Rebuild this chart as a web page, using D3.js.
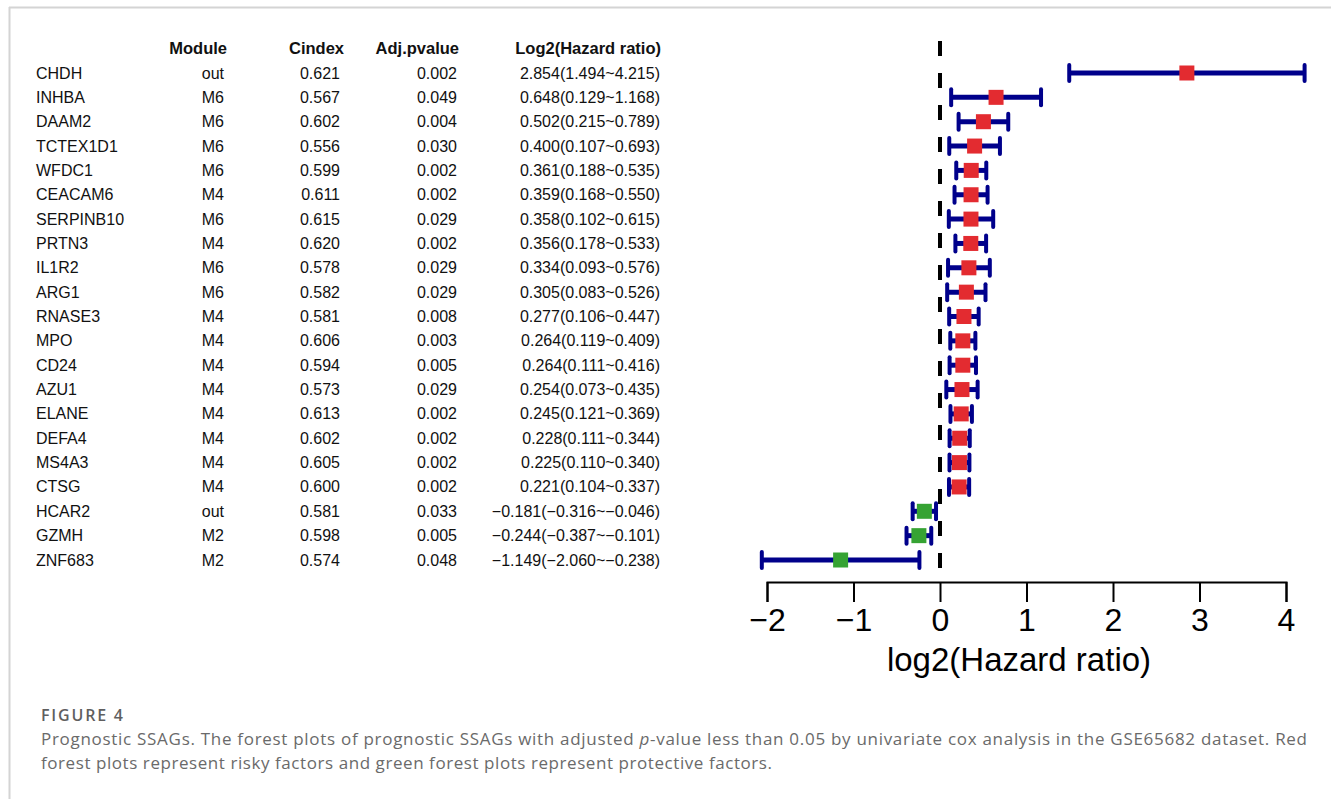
<!DOCTYPE html>
<html>
<head>
<meta charset="utf-8">
<script src="https://cdn.jsdelivr.net/npm/d3@7"></script>
<style>
  html, body { margin: 0; padding: 0; background: #fff; }
  svg { display: block; }
</style>
</head>
<body>
<svg id="chart" width="1331" height="799"></svg>
<script>
const genes = ["CHDH","INHBA","DAAM2","TCTEX1D1","WFDC1","CEACAM6","SERPINB10","PRTN3","IL1R2","ARG1","RNASE3","MPO","CD24","AZU1","ELANE","DEFA4","MS4A3","CTSG","HCAR2","GZMH","ZNF683"];
const modules = ["out","M6","M6","M6","M6","M4","M6","M4","M6","M6","M4","M4","M4","M4","M4","M4","M4","M4","out","M2","M2"];
const cindex = [0.621,0.567,0.602,0.556,0.599,0.611,0.615,0.620,0.578,0.582,0.581,0.606,0.594,0.573,0.613,0.602,0.605,0.600,0.581,0.598,0.574];
const adjP = [0.002,0.049,0.004,0.030,0.002,0.002,0.029,0.002,0.029,0.029,0.008,0.003,0.005,0.029,0.002,0.002,0.002,0.002,0.033,0.005,0.048];
const log2HR = [2.854,0.648,0.502,0.400,0.361,0.359,0.358,0.356,0.334,0.305,0.277,0.264,0.264,0.254,0.245,0.228,0.225,0.221,-0.181,-0.244,-1.149];
const lower = [1.494,0.129,0.215,0.107,0.188,0.168,0.102,0.178,0.093,0.083,0.106,0.119,0.111,0.073,0.121,0.111,0.110,0.104,-0.316,-0.387,-2.060];
const upper = [4.215,1.168,0.789,0.693,0.535,0.550,0.615,0.533,0.576,0.526,0.447,0.409,0.416,0.435,0.369,0.344,0.340,0.337,-0.046,-0.101,-0.238];
const headers = ["Module","Cindex","Adj.pvalue","Log2(Hazard ratio)"];
const xTicks = [-2,-1,0,1,2,3,4];
const axisTitle = "log2(Hazard ratio)";
const figLabel = "FIGURE 4";
const captionLine1a = "Prognostic SSAGs. The forest plots of prognostic SSAGs with adjusted ";
const captionItalic = "p";
const captionLine1b = "-value less than 0.05 by univariate cox analysis in the GSE65682 dataset. Red";
const captionLine2 = "forest plots represent risky factors and green forest plots represent protective factors.";

const svg = d3.select("#chart");
const f3 = d3.format(".3f");

// frame border
svg.append("line").attr("x1", 9).attr("x2", 1331).attr("y1", 7.5).attr("y2", 7.5)
  .attr("stroke", "#d4d4d4").attr("stroke-width", 2);
svg.append("line").attr("x1", 9.5).attr("x2", 9.5).attr("y1", 7).attr("y2", 799)
  .attr("stroke", "#d4d4d4").attr("stroke-width", 2);

const y = d3.scalePoint().domain(genes).range([73, 560]);
const x = d3.scaleLinear().domain([-2, 4]).range([767, 1286]);

const tableFont = "Liberation Sans, Arial, Helvetica, sans-serif";
const colX = [227, 344, 459, 661];
const headerY = 48;

// headers
svg.append("g").selectAll("text").data(headers).join("text")
  .attr("x", (d, i) => colX[i]).attr("y", headerY)
  .attr("text-anchor", "end").attr("dominant-baseline", "central")
  .attr("font-family", tableFont).attr("font-size", 16.5).attr("font-weight", "bold")
  .attr("fill", "#111").text(d => d);

const rows = genes.map((g, i) => ({
  gene: g, module: modules[i], cindex: cindex[i], p: adjP[i],
  hr: log2HR[i], lo: lower[i], hi: upper[i]
}));

const tbl = svg.append("g").attr("font-family", tableFont).attr("font-size", 16).attr("fill", "#111");
const rowG = tbl.selectAll("g").data(rows).join("g")
  .attr("transform", d => `translate(0,${y(d.gene)})`);
rowG.append("text").attr("x", 36).attr("dominant-baseline", "central").text(d => d.gene);
rowG.append("text").attr("x", colX[0] - 3).attr("text-anchor", "end").attr("dominant-baseline", "central").text(d => d.module);
rowG.append("text").attr("x", colX[1] - 4).attr("text-anchor", "end").attr("dominant-baseline", "central").text(d => f3(d.cindex));
rowG.append("text").attr("x", colX[2] - 2).attr("text-anchor", "end").attr("dominant-baseline", "central").text(d => f3(d.p));
rowG.append("text").attr("x", colX[3] - 1).attr("text-anchor", "end").attr("dominant-baseline", "central")
  .text(d => `${f3(d.hr)}(${f3(d.lo)}~${f3(d.hi)})`);

// zero dashed line
const axisY = 582;
svg.append("line").attr("x1", x(0)).attr("x2", x(0)).attr("y1", 41).attr("y2", axisY)
  .attr("stroke", "#000").attr("stroke-width", 4).attr("stroke-dasharray", "15,17");

// forest marks
const navy = "#00008b";
const capH = 16;
const fg = svg.append("g");
const rg = fg.selectAll("g").data(rows).join("g").attr("transform", d => `translate(0,${y(d.gene)})`);
rg.append("line").attr("x1", d => x(d.lo)).attr("x2", d => x(d.hi)).attr("y1", 0).attr("y2", 0)
  .attr("stroke", navy).attr("stroke-width", 5);
rg.append("line").attr("x1", d => x(d.lo)).attr("x2", d => x(d.lo)).attr("y1", -capH / 2).attr("y2", capH / 2)
  .attr("stroke", navy).attr("stroke-width", 4).attr("stroke-linecap", "round");
rg.append("line").attr("x1", d => x(d.hi)).attr("x2", d => x(d.hi)).attr("y1", -capH / 2).attr("y2", capH / 2)
  .attr("stroke", navy).attr("stroke-width", 4).attr("stroke-linecap", "round");
const box = 15;
rg.append("rect").attr("x", d => x(d.hr) - box / 2).attr("y", -box / 2)
  .attr("width", box).attr("height", box)
  .attr("fill", d => d.hr >= 0 ? "#e32b30" : "#36a333");

// axis
const axis = d3.axisBottom(x).tickValues(xTicks).tickFormat(d3.format("d")).tickSize(20).tickPadding(6);
const ag = svg.append("g").attr("transform", `translate(0,${axisY})`).call(axis);
ag.select(".domain").attr("stroke", "#000").attr("stroke-width", 2);
ag.selectAll(".tick line").attr("stroke", "#000").attr("stroke-width", 2);
ag.selectAll(".tick text").attr("font-family", tableFont).attr("font-size", 32).attr("fill", "#000");

svg.append("text").attr("x", 1019).attr("y", 671).attr("text-anchor", "middle")
  .attr("font-family", tableFont).attr("font-size", 33).attr("fill", "#000").text(axisTitle);

// caption
const capFont = "Open Sans, Noto Sans, sans-serif";
svg.append("text").attr("x", 41).attr("y", 721).attr("font-family", capFont).attr("font-size", 16)
  .attr("font-weight", 600).attr("fill", "#5f5f5f").attr("textLength", 82).attr("lengthAdjust", "spacing").text(figLabel);
const c1 = svg.append("text").attr("x", 41).attr("y", 745).attr("font-family", capFont).attr("font-size", 17)
  .attr("fill", "#6a6a6a").attr("textLength", 1266).attr("lengthAdjust", "spacing");
c1.append("tspan").text(captionLine1a);
c1.append("tspan").attr("font-style", "italic").text(captionItalic);
c1.append("tspan").text(captionLine1b);
svg.append("text").attr("x", 41).attr("y", 769).attr("font-family", capFont).attr("font-size", 17)
  .attr("fill", "#6a6a6a").attr("textLength", 731).attr("lengthAdjust", "spacing").text(captionLine2);
</script>
</body>
</html>
